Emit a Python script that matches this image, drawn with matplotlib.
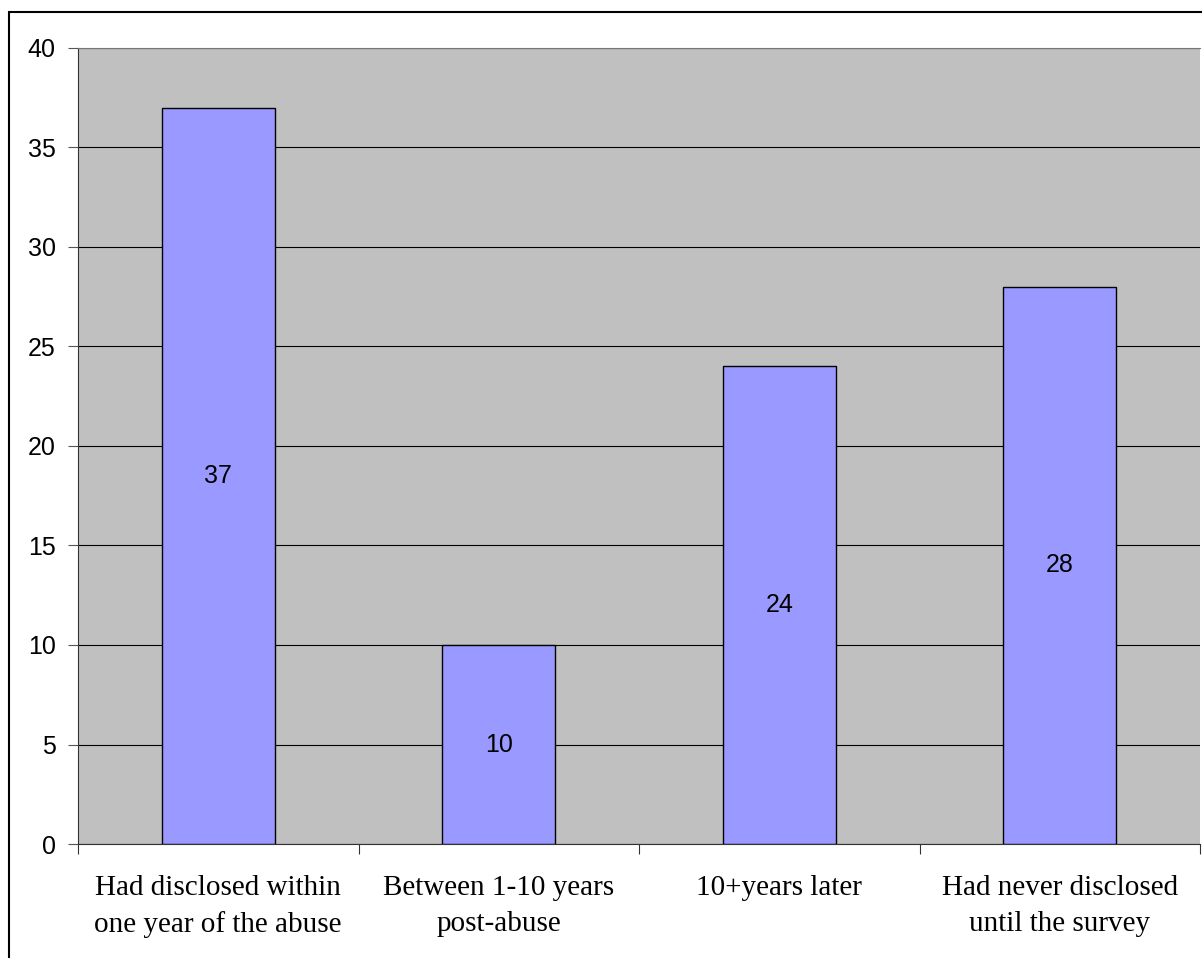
import matplotlib
matplotlib.use('Agg')
import matplotlib.pyplot as plt
import matplotlib.patches as mpatches
import numpy as np

categories = ["Had disclosed within\none year of the abuse",
              "Between 1-10 years\npost-abuse",
              "10+years later",
              "Had never disclosed\nuntil the survey"]
values = [37, 10, 24, 28]
yticks = [0, 5, 10, 15, 20, 25, 30, 35, 40]

fig = plt.figure(figsize=(12.02, 9.58), dpi=100)
ax = fig.add_axes([78 / 1202, 1 - 844 / 958, (1200 - 78) / 1202, (844 - 48) / 958])

# outer chart frame
fig.patches.append(mpatches.Rectangle((9 / 1202, -0.01), 1.0, 1 - 12 / 958 + 0.01,
                                      transform=fig.transFigure, fill=False,
                                      edgecolor='black', linewidth=1.5))

x = np.arange(len(values))
ax.set_facecolor('#C0C0C0')
ax.bar(x, values, width=0.403, color='#9999FF', edgecolor='black', linewidth=1, zorder=3)
for xi, v in zip(x, values):
    ax.text(xi, v / 2, str(v), ha='center', va='center', fontsize=18,
            family='Liberation Sans', zorder=4)

ax.set_xlim(-0.5, len(values) - 0.5)
ax.set_ylim(0, 40)
ax.set_yticks(yticks)
ax.yaxis.grid(True, color='black', linewidth=0.8, zorder=1)
ax.set_axisbelow(True)
for lbl in ax.get_yticklabels():
    lbl.set_family('Liberation Sans')
    lbl.set_fontsize(18)
ax.tick_params(axis='y', length=7, width=0.8, color='#555555', pad=9)

ax.set_xticks(np.arange(-0.5, len(values)), minor=False)
ax.set_xticklabels([])
ax.set_xticks(x, minor=True)
ax.set_xticklabels(categories, minor=True, family='Liberation Serif', fontsize=21,
                   linespacing=1.5)
ax.tick_params(axis='x', which='major', length=7, width=0.8, color='#333333')
ax.tick_params(axis='x', which='minor', length=0, pad=22)

ax.spines['top'].set_color('#777777')
ax.spines['right'].set_visible(False)
ax.spines['left'].set_color('#333333')
ax.spines['bottom'].set_color('#333333')

fig.savefig('out.png', dpi=100)
